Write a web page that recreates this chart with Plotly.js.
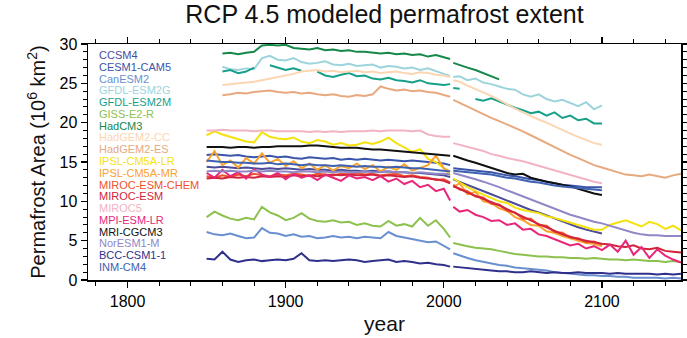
<!DOCTYPE html>
<html>
<head>
<meta charset="utf-8">
<script src="https://cdn.plot.ly/plotly-3.0.1.min.js"></script>
<style>html,body{margin:0;padding:0;background:#fff;}#chart{width:687px;height:338px;}</style>
</head>
<body>
<div id="chart"></div>
<script>
// Years (historical: 1850-2004, RCP 4.5: 2006-2150)
const histYears = [1850,1855,1860,1865,1870,1875,1880,1885,1890,1895,1900,1905,1910,1915,1920,1925,1930,1935,1940,1945,1950,1955,1960,1965,1970,1975,1980,1985,1990,1995,2000,2004];
const rcpYears = [2006,2010,2015,2020,2025,2030,2035,2040,2045,2050,2055,2060,2065,2070,2075,2080,2085,2090,2095,2100,2105,2110,2115,2120,2125,2130,2135,2140,2145,2150];

const modelNames = ["CCSM4","CESM1-CAM5","CanESM2","GFDL-ESM2G","GFDL-ESM2M","GISS-E2-R","HadCM3","HadGEM2-CC","HadGEM2-ES","IPSL-CM5A-LR","IPSL-CM5A-MR","MIROC-ESM-CHEM","MIROC-ESM","MIROC5","MPI-ESM-LR","MRI-CGCM3","NorESM1-M","BCC-CSM1-1","INM-CM4"];
const modelColors = ["#4b4b98","#3b55aa","#6a8fd0","#9dd4dc","#16a08a","#8cc14e","#15884a","#fbd6b2","#e8a97f","#f5e20c","#f9a22e","#f0522c","#d3233a","#f2b3c3","#e8277a","#111111","#9187c6","#2f2f8c","#3e62b2"];

// Permafrost area (10^6 km^2), historical values per model
const ccsm4_hist = [14.4,14.3,14.4,14.3,14.2,14.3,14.2,14.1,14.2,14.1,14.2,14.1,14.0,14.1,14.0,14.0,13.9,14.0,13.9,13.9,13.8,13.9,13.8,13.8,13.7,13.7,13.6,13.6,13.5,13.4,13.3,13.1];
const cesm_hist = [15.9,16.0,15.9,15.8,15.9,15.7,15.6,15.7,15.8,15.6,15.7,15.5,15.4,15.6,15.5,15.4,15.5,15.3,15.4,15.3,15.4,15.3,15.2,15.3,15.2,15.1,15.2,15.1,15.0,14.9,14.8,14.6];
const canesm_hist = [6.1,5.8,5.7,5.9,5.6,5.3,5.4,6.6,6.0,5.9,5.6,5.8,5.5,5.6,5.3,5.4,5.6,5.4,5.5,5.3,5.5,5.4,5.3,6.1,5.6,5.4,5.2,5.0,4.8,4.9,4.4,3.9];
const gfdlg_hist = [null,null,27.1,26.8,26.7,26.9,26.8,28.2,28.5,28.0,27.9,28.2,27.7,27.5,27.6,27.8,27.4,27.3,27.5,27.2,27.3,27.4,27.0,27.2,27.1,26.9,27.0,26.7,26.9,26.5,26.2,25.9];
const gfdlm_hist = [null,null,26.5,26.7,26.3,26.5,27.0,null,27.3,27.0,26.7,26.9,26.6,null,26.5,26.0,25.8,26.1,26.3,25.9,26.0,25.6,25.5,25.7,25.4,25.3,25.1,25.4,25.0,24.9,24.8,24.9];
const giss_hist = [8.0,8.7,8.2,7.8,7.6,7.9,7.7,9.3,8.6,8.2,7.6,7.9,8.5,7.8,7.5,7.4,7.6,7.3,7.4,7.0,7.2,6.9,6.8,7.5,6.9,7.1,6.8,7.9,6.9,7.6,6.5,5.4];
const hadcm3_hist = [null,null,28.8,28.9,28.7,28.9,29.0,29.8,29.9,29.8,29.9,29.5,29.4,29.3,29.5,29.2,29.3,29.1,29.2,29.0,29.0,28.9,28.8,28.9,28.7,28.8,28.6,28.7,28.4,28.6,28.3,28.1];
const hadcc_hist = [null,null,24.8,24.9,25.0,25.1,25.2,25.4,25.6,25.8,26.0,26.2,26.5,26.6,26.7,26.5,26.6,26.4,26.5,26.6,26.4,26.5,26.3,26.4,26.5,26.3,26.2,26.4,26.3,26.1,26.0,25.8];
const hades_hist = [null,null,23.5,23.6,23.8,23.7,23.9,24.0,24.1,23.9,23.8,23.9,23.7,23.8,23.6,23.5,23.6,23.4,23.3,23.5,23.4,23.6,24.6,24.3,24.1,24.2,24.0,24.1,23.9,23.8,23.5,23.3];
const ipsllr_hist = [18.4,18.9,18.5,18.2,17.9,17.6,17.5,18.8,18.2,18.0,17.9,18.1,17.6,17.4,17.8,17.6,17.2,17.4,17.1,17.2,17.5,17.3,17.6,18.1,17.4,16.8,16.3,16.6,15.4,15.0,14.2,13.3];
const ipslmr_hist = [15.0,16.4,14.6,15.2,14.3,15.5,14.8,16.1,14.9,15.4,14.5,15.1,14.2,14.8,14.0,14.6,13.9,14.5,14.2,14.8,14.1,14.6,13.8,14.4,14.0,14.7,13.9,14.3,14.6,15.8,14.2,13.8];
const mirocchem_hist = [13.2,13.0,13.3,13.1,13.4,13.2,13.5,13.3,13.2,13.4,13.3,13.5,13.4,13.2,13.5,13.4,13.3,13.5,13.4,13.6,13.4,13.5,13.3,13.4,13.5,13.2,13.3,13.1,13.0,12.7,12.8,12.4];
const mirocesm_hist = [12.9,13.0,12.9,13.1,13.0,13.1,13.0,13.2,13.1,13.2,13.1,13.3,13.2,13.3,13.2,13.3,13.4,13.3,13.4,13.3,13.3,13.4,13.2,13.3,13.2,13.1,13.2,13.0,12.9,12.8,12.6,12.3];
const miroc5_hist = [19.0,19.0,19.1,19.0,19.0,19.0,18.9,19.0,19.0,18.9,18.9,18.9,18.9,18.8,18.9,18.8,18.9,18.8,18.9,18.9,18.9,19.0,18.9,19.0,19.0,19.0,18.9,19.0,18.5,18.3,18.2,18.2];
const mpi_hist = [13.6,13.0,14.0,13.2,13.7,12.9,14.1,13.4,13.1,13.6,12.8,13.5,13.0,13.3,12.7,13.4,13.0,12.6,13.3,12.9,13.1,12.7,13.2,12.5,12.9,12.2,12.6,11.8,12.1,11.3,11.6,10.1];
const mri_hist = [16.9,16.9,16.9,16.8,16.9,16.9,16.8,16.9,16.9,17.0,17.0,17.0,17.0,17.1,17.1,17.0,16.9,16.8,16.8,16.8,16.7,16.6,16.6,16.5,16.4,16.3,16.2,16.1,16.0,15.9,15.8,15.8];
const noresm_hist = [13.8,13.9,13.8,13.9,13.8,13.8,13.9,13.8,13.9,13.8,13.8,13.7,13.8,13.8,13.7,13.8,13.7,13.8,13.7,13.7,13.8,13.7,13.7,13.8,13.7,13.7,13.6,13.7,13.6,13.5,13.5,13.4];
const bcc_hist = [2.7,2.6,3.6,2.6,2.3,2.5,2.6,2.4,2.5,2.6,2.5,2.7,3.4,2.5,2.4,2.5,2.4,2.5,2.6,2.5,2.3,2.4,2.5,2.6,2.3,2.4,2.3,2.1,2.2,2.0,1.9,1.7];
const inm_hist = [15.2,15.1,15.0,15.0,14.9,14.9,14.8,14.8,14.9,14.7,14.8,14.7,14.6,14.7,14.6,14.6,14.5,14.6,14.5,14.4,14.5,14.4,14.4,14.3,14.4,14.3,14.2,14.2,14.1,14.0,13.9,13.8];

// RCP 4.5 values per model
const ccsm4_rcp = [12.8,12.5,12.1,11.7,11.3,10.9,10.5,10.1,9.7,9.3,8.9,8.6,8.2,7.8,7.4,7.1,6.7,6.4,6.1,5.9];
const cesm_rcp = [14.2,14.1,14.0,13.9,13.8,13.7,13.5,13.3,13.2,13.0,12.8,12.7,12.5,12.3,12.1,12.0,11.9,11.8,11.8,11.8];
const canesm_rcp = [3.4,3.1,2.8,2.5,2.3,2.1,1.9,1.8,1.6,1.5,1.4,1.3,1.2,1.0,0.9,0.8,0.7,0.6,0.6,0.5,0.5,0.4,0.4,0.3,0.3,0.3,0.3,0.2,0.3,0.2];
const gfdlg_rcp = [25.8,25.9,25.4,25.6,25.1,24.9,24.6,24.3,24.2,23.6,23.3,23.6,23.0,22.7,22.9,22.5,22.1,22.6,21.7,22.2];
const gfdlm_rcp = [24.4,24.3,null,23.0,22.8,23.1,22.7,22.2,21.9,21.6,21.2,21.4,20.9,21.3,20.6,20.9,20.3,20.5,19.9,19.9];
const giss_rcp = [4.7,4.5,4.3,4.1,4.0,3.9,3.7,3.5,3.3,3.2,3.1,3.0,3.0,2.9,2.9,2.8,2.8,2.7,2.8,2.7,2.6,2.6,2.5,2.6,2.5,2.4,2.4,2.3,2.4,2.3];
const hadcm3_rcp = [27.6,27.3,27.0,26.7,26.3,25.9,25.5];
const hadcc_rcp = [25.4,25.2,24.7,24.3,23.9,23.4,22.9,22.3,21.8,21.3,20.8,20.4,20.0,19.5,19.0,18.6,18.2,17.8,17.4,17.2];
const hades_rcp = [22.9,22.5,22.0,21.6,21.1,20.6,20.2,19.8,19.3,18.9,18.4,17.9,17.3,16.8,16.3,15.9,15.5,15.0,14.6,14.3,14.0,13.7,13.4,13.3,13.2,13.4,13.2,13.0,13.3,13.5];
const ipsllr_rcp = [12.9,12.4,11.8,11.3,10.9,10.5,10.0,9.8,9.2,8.9,8.7,8.5,8.1,7.9,7.6,7.3,7.0,6.8,6.4,6.4,7.0,7.3,7.6,7.2,6.8,7.4,7.1,6.5,6.9,6.3];
const ipslmr_rcp = [11.8,12.3,10.9,11.2,10.0,9.8,9.1,8.8,8.0,7.6,7.0,6.9,6.2,6.0,5.6,5.3,5.0,4.7,4.6,4.3];
const mirocchem_rcp = [12.1,11.5,11.3,10.6,10.5,9.7,9.6,8.8,8.6,7.8,7.8,7.0,6.9,6.1,6.0,5.4,5.3,4.8,4.9,4.5];
const mirocesm_rcp = [11.9,11.6,11.1,10.7,10.4,9.9,9.5,9.0,8.5,8.0,7.6,7.1,6.7,6.2,5.8,5.5,5.2,5.0,4.8,4.6,4.5,4.3,4.2,4.4,4.0,3.9,4.1,3.7,3.6,3.5];
const miroc5_rcp = [17.4,17.2,16.9,16.7,16.4,16.0,15.8,15.5,15.3,15.1,14.8,14.5,14.2,13.9,13.6,13.3,13.0,12.7,12.5,12.3];
const mpi_rcp = [9.3,8.7,8.9,8.3,8.0,7.5,7.6,7.0,7.2,6.4,6.5,5.8,5.6,5.2,4.8,4.4,4.6,4.0,4.3,3.8,4.5,3.6,5.0,3.2,4.2,2.8,3.9,3.1,2.6,2.2];
const mri_rcp = [15.8,15.5,15.2,14.9,14.6,14.3,13.9,13.6,13.4,13.5,13.0,12.7,12.5,12.3,12.1,11.9,11.6,11.3,11.0,10.8];
const noresm_rcp = [13.6,13.4,13.1,12.8,12.5,12.2,11.8,11.4,11.0,10.7,10.3,9.9,9.5,9.1,8.7,8.3,8.0,7.7,7.4,7.2,6.9,6.6,6.3,6.0,5.8,5.7,5.7,5.6,5.6,5.6];
const bcc_rcp = [1.7,1.6,1.5,1.4,1.3,1.2,1.1,1.1,1.0,1.0,1.1,1.0,0.9,1.0,0.9,0.9,1.0,0.9,0.9,0.9,0.8,0.9,0.8,0.8,0.8,0.8,0.7,0.8,0.7,0.8];
const inm_rcp = [13.9,13.8,13.7,13.6,13.5,13.4,13.2,13.0,12.9,12.7,12.5,12.4,12.2,12.0,11.9,11.8,11.7,11.6,11.5,11.4];

const histSeries = [ccsm4_hist,cesm_hist,canesm_hist,gfdlg_hist,gfdlm_hist,giss_hist,hadcm3_hist,hadcc_hist,hades_hist,ipsllr_hist,ipslmr_hist,mirocchem_hist,mirocesm_hist,miroc5_hist,mpi_hist,mri_hist,noresm_hist,bcc_hist,inm_hist];
const rcpSeries = [ccsm4_rcp,cesm_rcp,canesm_rcp,gfdlg_rcp,gfdlm_rcp,giss_rcp,hadcm3_rcp,hadcc_rcp,hades_rcp,ipsllr_rcp,ipslmr_rcp,mirocchem_rcp,mirocesm_rcp,miroc5_rcp,mpi_rcp,mri_rcp,noresm_rcp,bcc_rcp,inm_rcp];

const FONT = "'Liberation Sans', Arial, Helvetica, sans-serif";

const traces = modelNames.map((name, i) => {
  const r = rcpSeries[i];
  return {
    type: 'scatter', mode: 'lines', name: name,
    x: histYears.concat([2005]).concat(rcpYears.slice(0, r.length)),
    y: histSeries[i].concat([null]).concat(r),
    line: {color: modelColors[i], width: 2},
    connectgaps: false,
    hoverinfo: 'skip'
  };
});

// Legend drawn as coloured text (as in the reference)
const plotTop = 44, plotBottom = 280, plotLeft = 88, plotRight = 681;
const legendAnn = modelNames.map((name, i) => ({
  text: name, xref: 'paper', yref: 'paper',
  x: (97 - plotLeft) / (plotRight - plotLeft),
  y: (plotBottom - (55 + i * 11.78)) / (plotBottom - plotTop),
  xanchor: 'left', yanchor: 'middle', showarrow: false,
  font: {family: FONT, size: 11, color: modelColors[i]}
}));

const axisCommon = {
  showgrid: false, zeroline: false, showline: true, linecolor: '#000', linewidth: 1.5,
  mirror: 'allticks', ticks: 'outside', ticklen: 6, tickwidth: 1.3, tickcolor: '#000',
  tickfont: {family: FONT, size: 16, color: '#000'}
};

const layout = {
  width: 687, height: 338,
  margin: {l: plotLeft, r: 687 - plotRight, t: plotTop, b: 338 - plotBottom},
  paper_bgcolor: '#fff', plot_bgcolor: '#fff',
  showlegend: false,
  title: {text: 'RCP 4.5 modeled permafrost extent', font: {family: FONT, size: 25, color: '#111'},
          x: 0.5, xref: 'paper', xanchor: 'center', y: 1 - 14/338, yref: 'container', yanchor: 'middle'},
  xaxis: Object.assign({}, axisCommon, {
    range: [1775, 2150], tick0: 1800, dtick: 100,
    minor: {dtick: 20, tick0: 1800, ticks: 'outside', ticklen: 4, tickwidth: 1, tickcolor: '#000'},
    title: {text: 'year', font: {family: FONT, size: 21, color: '#111'}, standoff: 7}
  }),
  yaxis: Object.assign({}, axisCommon, {
    range: [0, 30], tick0: 0, dtick: 5,
    minor: {dtick: 1, ticks: 'outside', ticklen: 4, tickwidth: 1, tickcolor: '#000'},
    title: {text: 'Permafrost Area (10<sup>6</sup> km<sup>2</sup>)', font: {family: FONT, size: 20, color: '#111'}, standoff: 8}
  }),
  annotations: legendAnn
};

Plotly.newPlot('chart', traces, layout, {staticPlot: true, displayModeBar: false});
</script>
</body>
</html>
